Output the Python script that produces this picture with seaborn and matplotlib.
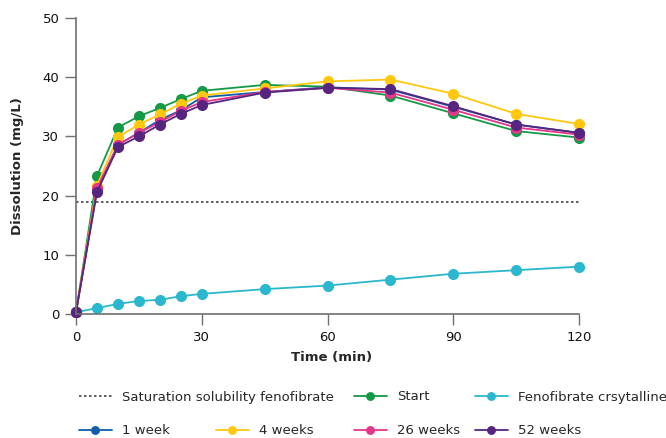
import pandas as pd
import matplotlib
matplotlib.use("Agg")
import matplotlib.pyplot as plt
import seaborn as sns

# time points (min)
time = [0, 5, 10, 15, 20, 25, 30, 45, 60, 75, 90, 105, 120]

start = [0.3, 23.3, 31.5, 33.4, 34.8, 36.3, 37.7, 38.7, 38.4, 36.9, 33.9, 30.9, 29.8]
crystalline = [0.3, 1.0, 1.7, 2.2, 2.4, 3.0, 3.4, 4.2, 4.8, 5.8, 6.8, 7.4, 8.0]
week1 = [0.3, 21.0, 28.6, 30.6, 32.8, 34.4, 36.6, 37.5, 38.3, 37.9, 35.0, 32.0, 30.6]
week4 = [0.3, 21.7, 29.9, 32.0, 33.7, 35.5, 36.9, 38.1, 39.3, 39.6, 37.2, 33.8, 32.1]
week26 = [0.3, 21.2, 28.6, 30.6, 32.4, 34.3, 35.8, 37.5, 38.2, 37.4, 34.5, 31.5, 30.3]
week52 = [0.3, 20.6, 28.2, 30.0, 32.0, 33.8, 35.3, 37.4, 38.2, 38.0, 35.1, 32.0, 30.6]

saturation = 18.9

labels = ["Start", "Fenofibrate crsytalline", "1 week", "4 weeks", "26 weeks", "52 weeks"]
series = [start, crystalline, week1, week4, week26, week52]
colors = ["#149a46", "#2bb7cd", "#0e5caa", "#ffc80f", "#e6358b", "#56257f"]

sns.set_style("white")
plt.rcParams["font.family"] = ["DejaVu Sans"]

fig = plt.figure(figsize=(6.66, 4.38), dpi=100)
ax = fig.add_axes([76 / 666, 1 - 314 / 438, 503 / 666, 296 / 438])

ax.plot([0, 120], [saturation, saturation], ls=(0, (1.5, 1.5)), color="#444444", lw=1.2,
        label="Saturation solubility fenofibrate")

for lab, vals, col in zip(labels, series, colors):
    df = pd.DataFrame({"time": time, "value": vals})
    sns.lineplot(data=df, x="time", y="value", ax=ax, color=col, marker="o",
                 markersize=8, markeredgewidth=0, lw=1.3, label=lab, clip_on=False)

ax.set_xlim(0, 120)
ax.set_ylim(0, 50)
ax.set_xticks([0, 30, 60, 90, 120])
ax.set_yticks([0, 10, 20, 30, 40, 50])
sns.despine(ax=ax)
for s in ["left", "bottom"]:
    ax.spines[s].set_color("#707070")
    ax.spines[s].set_linewidth(1.2)
ax.tick_params(axis="both", length=8, width=1.0, color="#707070", labelsize=9.5,
               pad=4, labelcolor="#111111", direction="out", left=True, bottom=True)
ax.set_xlabel("Time (min)", fontsize=9.5, fontweight="bold")
ax.xaxis.set_label_coords(0.5 + 4 / 503, -37 / 296)
ax.set_ylabel("Dissolution (mg/L)", fontsize=9.5, fontweight="bold", labelpad=13)

handles, labs = ax.get_legend_handles_labels()
ax.get_legend().remove()
hmap = dict(zip(labs, handles))

# legend entries: (label, x px, y px)
entries = [
    ("Saturation solubility fenofibrate", 79, 397),
    ("Start", 354, 397),
    ("Fenofibrate crsytalline", 475, 397),
    ("1 week", 79, 431),
    ("4 weeks", 216, 431),
    ("26 weeks", 354, 431),
    ("52 weeks", 475, 431),
]
for lab, xp, yp in entries:
    fig.legend([hmap[lab]], [lab], loc="center left",
               bbox_to_anchor=(xp / 666, 1 - yp / 438), frameon=False,
               borderpad=0, borderaxespad=0, handlelength=2.5, handletextpad=0.75,
               fontsize=9.5, markerscale=0.8)

fig.savefig("out.png", dpi=100)
